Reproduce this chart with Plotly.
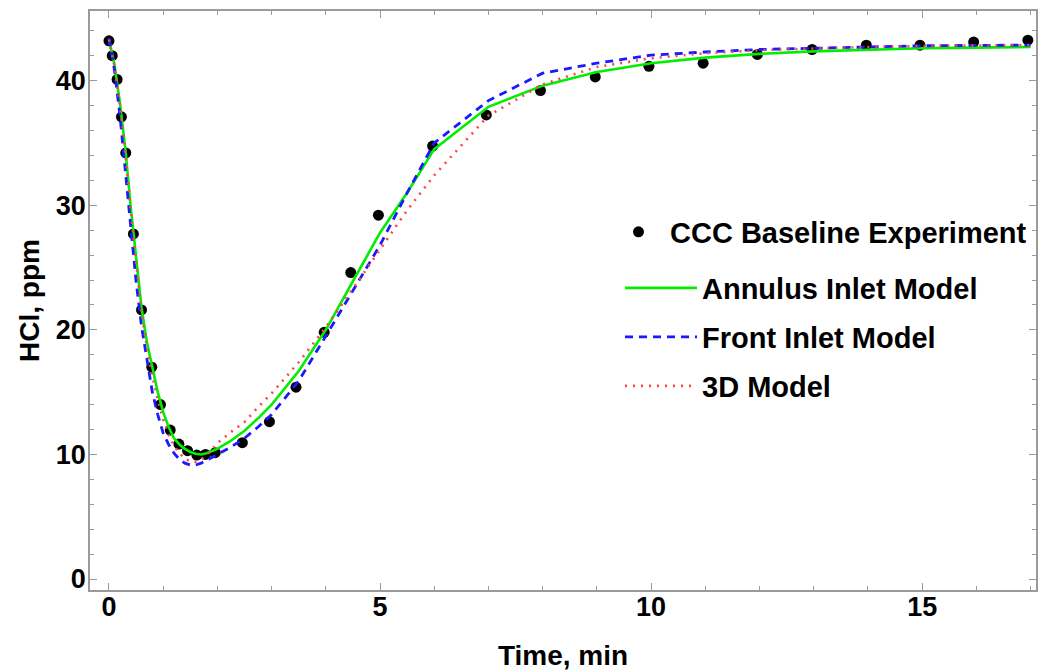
import plotly.graph_objects as go

# ---- Experimental data (CCC Baseline Experiment) ----
time_exp = [0, 0.06, 0.15, 0.23, 0.31, 0.45, 0.6, 0.79, 0.95, 1.13, 1.29, 1.45, 1.62, 1.78, 1.96,
            2.46, 2.96, 3.45, 3.97, 4.46, 4.97, 5.97, 6.96, 7.96, 8.97, 9.96, 10.96, 11.96,
            12.97, 13.97, 14.96, 15.95, 16.95]
hcl_exp = [43.2, 42.0, 40.1, 37.1, 34.2, 27.7, 21.6, 17.0, 14.0, 11.96, 10.83, 10.3, 9.95, 10.0, 10.14,
           10.94, 12.63, 15.4, 19.8, 24.6, 29.2, 34.75, 37.25, 39.2, 40.3, 41.15, 41.4, 42.1,
           42.5, 42.85, 42.85, 43.1, 43.25]

# ---- Model curves ----
time_model = [0, 0.1, 0.2, 0.3, 0.4, 0.5, 0.6, 0.7, 0.8, 0.9, 1.0, 1.1, 1.2, 1.3, 1.4, 1.5, 1.6,
              1.7, 1.8, 1.9, 2.0, 2.25, 2.5, 2.75, 3.0, 3.5, 4.0, 4.5, 5.0, 5.5, 6.0, 7.0, 8.0,
              9.0, 10, 11, 12, 13, 14, 15, 16, 17]
annulus_model = [43.3, 41.3, 38.3, 34.6, 29.9, 25.6, 21.8, 19.0, 16.9, 15.0, 13.4, 12.2, 11.3, 10.8,
                 10.45, 10.2, 10.05, 10.0, 10.1, 10.25, 10.45, 11.1, 11.9, 12.9, 14.0, 16.7, 20.0,
                 23.9, 27.8, 31.0, 34.5, 37.9, 39.6, 40.7, 41.4, 41.85, 42.15, 42.35, 42.5, 42.6,
                 42.65, 42.7]
front_model = [43.4, 40.9, 37.3, 33.0, 28.2, 23.9, 20.3, 17.5, 15.0, 13.2, 11.7, 10.8, 10.1, 9.6,
               9.3, 9.15, 9.15, 9.3, 9.5, 9.75, 10.0, 10.6, 11.3, 12.2, 13.2, 15.9, 19.5, 23.2,
               26.8, 31.0, 35.0, 38.4, 40.6, 41.4, 42.05, 42.3, 42.5, 42.6, 42.72, 42.8, 42.83,
               42.85]
model_3d = [43.3, 41.2, 38.1, 34.3, 29.6, 25.2, 21.4, 18.6, 16.3, 14.4, 12.8, 11.6, 10.7, 10.1,
            9.65, 9.45, 9.4, 9.6, 9.95, 10.4, 10.9, 11.8, 12.6, 13.8, 14.9, 17.4, 20.2, 23.3,
            26.4, 29.6, 32.4, 37.2, 39.7, 41.1, 41.8, 42.2, 42.45, 42.6, 42.7, 42.78, 42.82,
            42.85]

x_ticks = [0, 5, 10, 15]
y_ticks = [0, 10, 20, 30, 40]

FONT = "Liberation Sans"
frame_col = "#9a9a9a"

fig = go.Figure()
fig.add_trace(go.Scatter(x=time_exp, y=hcl_exp, mode="markers", name="CCC Baseline Experiment",
                         marker=dict(color="black", size=11), legend="legend"))
fig.add_trace(go.Scatter(x=time_model, y=annulus_model, mode="lines", name="Annulus Inlet Model",
                         line=dict(color="#00ee00", width=2.6), legend="legend2"))
fig.add_trace(go.Scatter(x=time_model, y=front_model, mode="lines", name="Front Inlet Model",
                         line=dict(color="#1a1aff", width=2.8, dash="8px,6px"), legend="legend3"))
fig.add_trace(go.Scatter(x=time_model, y=model_3d, mode="lines", name="3D Model",
                         line=dict(color="#ff4444", width=2.6, dash="2px,6px"), legend="legend4"))

L, R, T, B = 90, 1036, 11, 590
W, H = R - L, B - T

def px(xp):
    return (xp - L) / W

def py(yp):
    return (B - yp) / H

legfont = dict(family=FONT, size=29, color="black", weight="bold")
common = dict(font=legfont, bgcolor="rgba(0,0,0,0)", borderwidth=0, xanchor="left",
              yanchor="middle")

fig.update_layout(
    width=1040, height=672,
    margin=dict(l=L, r=1040 - R, t=T, b=672 - B, autoexpand=False),
    plot_bgcolor="white", paper_bgcolor="white",
    showlegend=True,
    legend=dict(x=px(607), y=py(232), itemwidth=53, **common),
    legend2=dict(x=px(620), y=py(288), itemwidth=72, **common),
    legend3=dict(x=px(620), y=py(337), itemwidth=72, **common),
    legend4=dict(x=px(620), y=py(386), itemwidth=72, **common),
)

axis_common = dict(
    showline=True, linecolor=frame_col, linewidth=1.5, mirror="ticks",
    ticks="inside", ticklen=7, tickwidth=1.3, tickcolor=frame_col,
    showgrid=False, zeroline=False, automargin=False,
    tickfont=dict(family=FONT, size=27, color="black", weight="bold"),
)

fig.update_xaxes(range=[-0.35, 17.10], tickvals=x_ticks,
                 minor=dict(dtick=1, ticklen=4, ticks="inside", tickcolor=frame_col, tickwidth=1),
                 title=dict(text="Time, min", font=dict(family=FONT, size=28, color="black", weight="bold"),
                            standoff=24),
                 ticklabelstandoff=-8,
                 **axis_common)
fig.update_yaxes(range=[-0.88, 45.59], tickvals=y_ticks,
                 minor=dict(dtick=2, ticklen=4, ticks="inside", tickcolor=frame_col, tickwidth=1),
                 title=dict(text="HCl, ppm", font=dict(family=FONT, size=28, color="black", weight="bold"),
                            standoff=8),
                 ticklabelstandoff=-3,
                 **axis_common)

fig.write_html("out.html", post_script="document.body.style.margin='0';",
               config={"displayModeBar": False})
